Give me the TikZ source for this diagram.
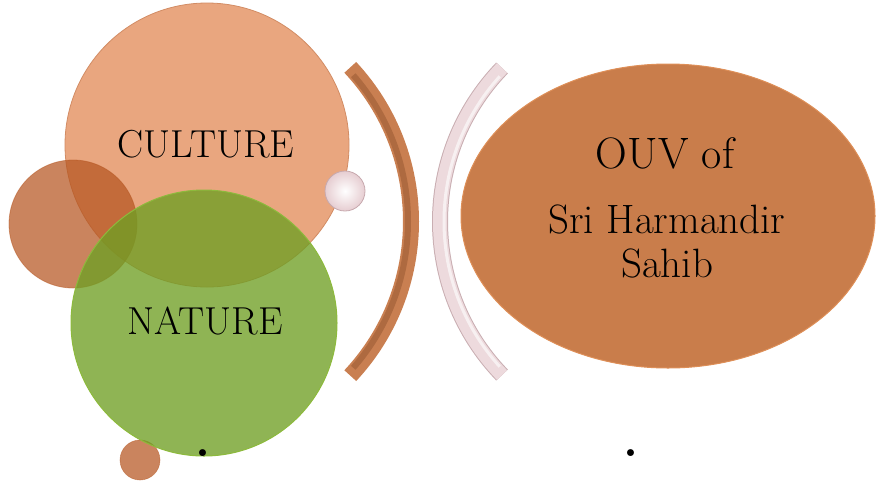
\documentclass[tikz,border=0pt]{standalone}
\usepackage{fontspec}
\usetikzlibrary{shapes.geometric}
\definecolor{culturefill}{HTML}{E9A67F}
\definecolor{cultureedge}{HTML}{D28C64}
\definecolor{brownfill}{HTML}{B55520}
\definecolor{greenfill}{HTML}{6F9F24}
\definecolor{greenedge}{HTML}{8DBA3C}
\definecolor{palefill}{HTML}{E6CDD1}
\definecolor{paleedge}{HTML}{C7A9AE}
\definecolor{bracketbrown}{HTML}{C97F51}
\definecolor{bracketdark}{HTML}{AE6A40}
\definecolor{bracketpink}{HTML}{EDDADD}
\definecolor{bracketpinkedge}{HTML}{C9AEB2}
\definecolor{ouvfill}{HTML}{C97D4B}
\definecolor{ouvedge}{HTML}{DE8F58}
\tikzset{
  bubble/.style={circle, inner sep=0pt},
  bigtext/.style={anchor=base, font=\fontsize{39}{44}\selectfont, text=black},
  ouvtext/.style={anchor=base, font=\fontsize{41}{46}\selectfont, text=black},
  dottext/.style={anchor=base, font=\fontsize{48}{48}\selectfont\bfseries, text=black}
}
\begin{document}
\begin{tikzpicture}[x=1pt,y=-1pt]
\useasboundingbox (0,0) rectangle (877,483);
% left cluster
\node[bubble, minimum size=284pt, fill=culturefill, draw=cultureedge, line width=0.8pt] (culture) at (207,145) {};
\node[bubble, minimum size=128pt, fill=brownfill, fill opacity=0.72, draw=brownfill, draw opacity=0.5, line width=0.8pt] (brownc) at (73,224) {};
\node[bubble, minimum size=40pt, fill=brownfill, fill opacity=0.72, draw=brownfill, draw opacity=0.5, line width=0.6pt] (smallc) at (140,460) {};
\node[bubble, minimum size=266pt, fill=greenfill, fill opacity=0.78, draw=greenedge, line width=1pt] (nature) at (204,323) {};
\node[bubble, minimum size=40pt, inner color=white, outer color=palefill, draw=paleedge, line width=0.8pt] (pale) at (345,191) {};
% brackets
\coordinate (bc) at (185,221.5);
\coordinate (pc) at (661,221.5);
\draw[bracketbrown, line width=16pt] ([shift={(-43:226)}]bc) arc[start angle=-43, end angle=43, radius=226];
\draw[bracketdark, line width=6pt] ([shift={(-41:223)}]bc) arc[start angle=-41, end angle=41, radius=223];
\draw[bracketpinkedge, line width=16pt] ([shift={(136:221)}]pc) arc[start angle=136, end angle=224, radius=221];
\draw[bracketpink, line width=14pt] ([shift={(136:221)}]pc) arc[start angle=136, end angle=224, radius=221];
\draw[white, line width=3pt, opacity=0.6] ([shift={(138:217)}]pc) arc[start angle=138, end angle=222, radius=217];
% ellipse
\node[ellipse, minimum width=414pt, minimum height=304pt, inner sep=0pt, fill=ouvfill, draw=ouvedge, line width=1pt] (ouv) at (668,216) {};
% texts
\node[bigtext] (tculture) at (206,157) {CULTURE};
\node[bigtext] (tnature) at (205,334) {NATURE};
\node[ouvtext, font=\fontsize{44}{48}\selectfont] (t1) at (665,168) {OUV of};
\node[ouvtext] (t2) at (667,233) {Sri Harmandir};
\node[ouvtext] (t3) at (667,277) {Sahib};
\node[dottext] (d1) at (203,456) {.};
\node[dottext] (d2) at (631,456) {.};
\end{tikzpicture}
\end{document}
